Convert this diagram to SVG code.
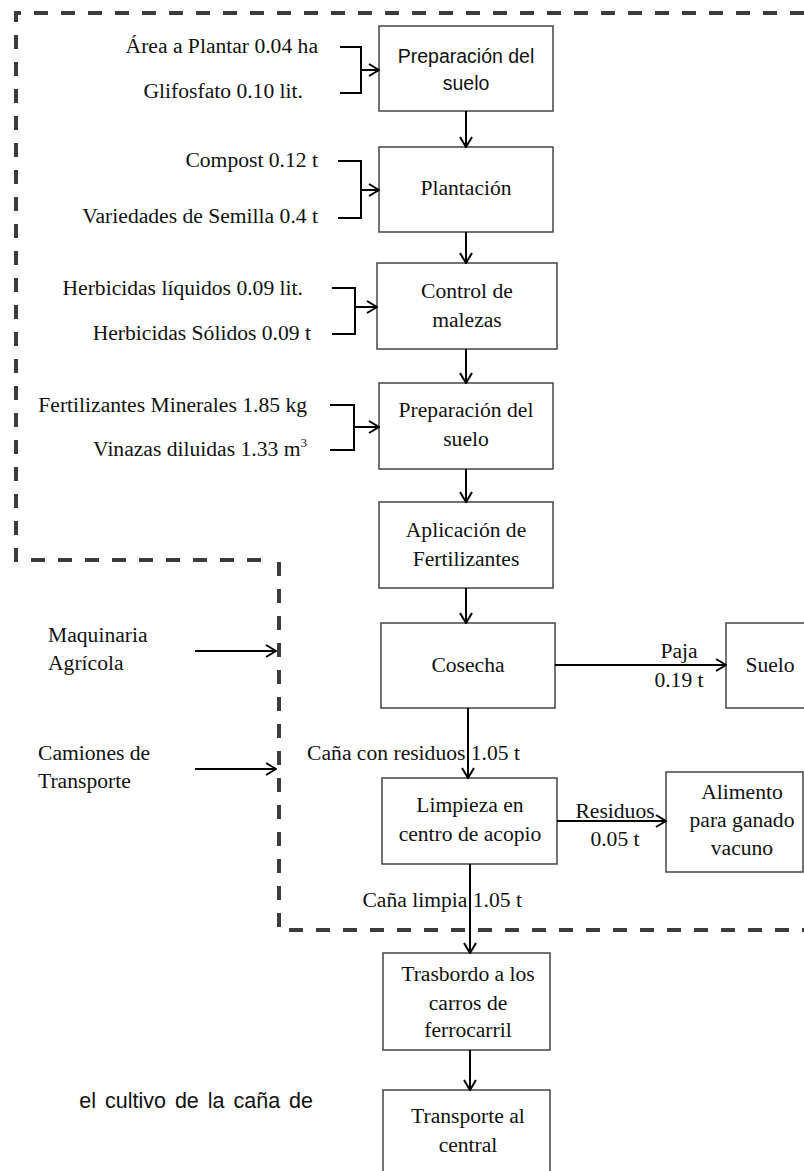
<svg xmlns="http://www.w3.org/2000/svg" width="804" height="1171" viewBox="0 0 804 1171">
<style>
  .box { fill: #ffffff; stroke: #444444; stroke-width: 1.5; }
  .t { font-family: "Liberation Serif", "Times New Roman", serif; font-size: 21.6px; fill: #111111; }
  .c { text-anchor: middle; }
  .e { text-anchor: end; }
  .s { font-family: "Liberation Sans", Arial, sans-serif; font-size: 19.5px; fill: #111111; text-anchor: middle; }
  .ln { fill: none; stroke: #000000; stroke-width: 2; }
  .dash { fill: none; stroke: #3c3c3c; stroke-width: 4; stroke-dasharray: 14 13; }
</style>
<defs>
  <marker id="ah" viewBox="0 0 12 14" refX="11" refY="7" markerWidth="12" markerHeight="14" markerUnits="userSpaceOnUse" orient="auto">
    <path d="M1,1 L11,7 L1,13" fill="none" stroke="#000000" stroke-width="2"/>
  </marker>
</defs>

<g id="boundary">
  <path class="dash" d="M804,13 H16 V560 H270"/>
  <path class="dash" d="M279,562 V930 H804"/>
</g>

<g id="inputs">
  <text class="t e" x="318" y="53">Área a Plantar 0.04 ha</text>
  <text class="t e" x="303" y="98">Glifosfato 0.10 lit.</text>
  <text class="t e" x="318" y="167">Compost 0.12 t</text>
  <text class="t e" x="318" y="223">Variedades de Semilla 0.4 t</text>
  <text class="t e" x="303" y="295">Herbicidas líquidos 0.09 lit.</text>
  <text class="t e" x="311" y="340">Herbicidas Sólidos 0.09 t</text>
  <text class="t e" x="307" y="412">Fertilizantes Minerales 1.85 kg</text>
  <text class="t e" x="307" y="456">Vinazas diluidas 1.33 m<tspan font-size="13" dy="-9">3</tspan></text>
  <text class="t" x="48" y="642">Maquinaria</text>
  <text class="t" x="48" y="670">Agrícola</text>
  <text class="t" x="38" y="760">Camiones de</text>
  <text class="t" x="38" y="788">Transporte</text>
</g>

<g id="n1"><rect class="box" x="379" y="26" width="174" height="85"/>
  <text class="s" x="466" y="63">Preparación del</text>
  <text class="s" x="466" y="90">suelo</text></g>
<g id="n2"><rect class="box" x="379" y="147" width="174" height="85"/>
  <text class="t c" x="466" y="195">Plantación</text></g>
<g id="n3"><rect class="box" x="377" y="263" width="180" height="86"/>
  <text class="t c" x="467" y="298">Control de</text>
  <text class="t c" x="467" y="327">malezas</text></g>
<g id="n4"><rect class="box" x="379" y="383" width="174" height="86"/>
  <text class="t c" x="466" y="417">Preparación del</text>
  <text class="t c" x="466" y="446">suelo</text></g>
<g id="n5"><rect class="box" x="379" y="502" width="174" height="86"/>
  <text class="t c" x="466" y="537">Aplicación de</text>
  <text class="t c" x="466" y="566">Fertilizantes</text></g>
<g id="n6"><rect class="box" x="381" y="623" width="174" height="85"/>
  <text class="t c" x="468" y="672">Cosecha</text></g>
<g id="n7"><rect class="box" x="726" y="623" width="90" height="85"/>
  <text class="t c" x="770" y="672">Suelo</text></g>
<g id="n8"><rect class="box" x="382" y="778" width="175" height="86"/>
  <text class="t c" x="470" y="812">Limpieza en</text>
  <text class="t c" x="470" y="841">centro de acopio</text></g>
<g id="n9"><rect class="box" x="666" y="772" width="137" height="100"/>
  <text class="t c" x="742" y="799">Alimento</text>
  <text class="t c" x="742" y="827">para ganado</text>
  <text class="t c" x="742" y="855">vacuno</text></g>
<g id="n10"><rect class="box" x="383" y="953" width="167" height="97"/>
  <text class="t c" x="468" y="981">Trasbordo a los</text>
  <text class="t c" x="468" y="1010">carros de</text>
  <text class="t c" x="468" y="1037">ferrocarril</text></g>
<g id="n11"><rect class="box" x="383" y="1090" width="167" height="100"/>
  <text class="t c" x="468" y="1123">Transporte al</text>
  <text class="t c" x="468" y="1152">central</text></g>

<g id="connectors">
  <path class="ln" d="M340,47 H361 V93 H340"/>
  <path class="ln" d="M361,70 H379" marker-end="url(#ah)"/>
  <path class="ln" d="M338,161 H361 V218 H338"/>
  <path class="ln" d="M361,190 H379" marker-end="url(#ah)"/>
  <path class="ln" d="M332,288 H355 V334 H332"/>
  <path class="ln" d="M355,307 H377" marker-end="url(#ah)"/>
  <path class="ln" d="M330,405 H354 V450 H330"/>
  <path class="ln" d="M354,427 H379" marker-end="url(#ah)"/>
  <path class="ln" d="M466,111 V147" marker-end="url(#ah)"/>
  <path class="ln" d="M466,232 V263" marker-end="url(#ah)"/>
  <path class="ln" d="M466,349 V383" marker-end="url(#ah)"/>
  <path class="ln" d="M466,469 V502" marker-end="url(#ah)"/>
  <path class="ln" d="M466,588 V623" marker-end="url(#ah)"/>
  <path class="ln" d="M468,708 V778" marker-end="url(#ah)"/>
  <path class="ln" d="M470,864 V953" marker-end="url(#ah)"/>
  <path class="ln" d="M470,1050 V1090" marker-end="url(#ah)"/>
  <path class="ln" d="M555,665 H726" marker-end="url(#ah)"/>
  <path class="ln" d="M557,821 H666" marker-end="url(#ah)"/>
  <path class="ln" d="M195,651 H276" marker-end="url(#ah)"/>
  <path class="ln" d="M195,769 H276" marker-end="url(#ah)"/>
  <text class="t c" x="679" y="658">Paja</text>
  <text class="t c" x="679" y="687">0.19 t</text>
  <text class="t e" x="520" y="760">Caña con residuos 1.05 t</text>
  <text class="t c" x="615" y="818">Residuos</text>
  <text class="t c" x="615" y="846">0.05 t</text>
  <text class="t e" x="522" y="907">Caña limpia 1.05 t</text>
</g>

<text x="313" y="1108" text-anchor="end" font-family="Liberation Sans, Arial, sans-serif" font-size="21.5" fill="#111111" word-spacing="3">el cultivo de la caña de</text>
</svg>
